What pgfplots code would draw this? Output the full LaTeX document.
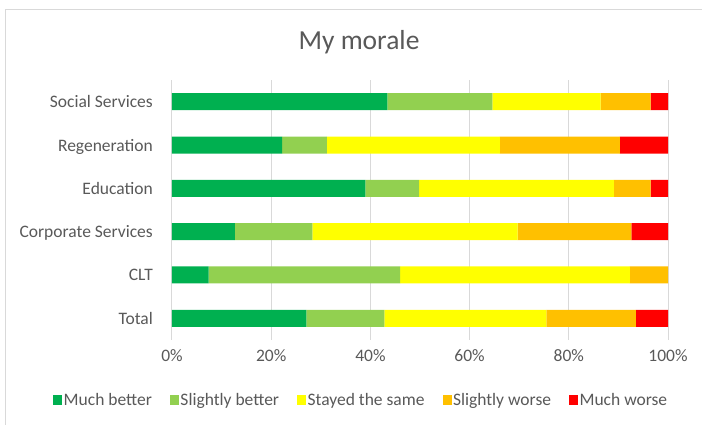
\documentclass[border=0pt]{standalone}
\usepackage{pgfplots}
\pgfplotsset{compat=1.18}
\usepackage{pgfplotstable}
\usepackage{fontspec}
\setmainfont{Carlito}
\definecolor{txt}{HTML}{595959}
\definecolor{gridc}{HTML}{D9D9D9}
\definecolor{cmb}{HTML}{00B050}
\definecolor{csb}{HTML}{92D050}
\definecolor{css}{HTML}{FFFF00}
\definecolor{csw}{HTML}{FFC000}
\definecolor{cmw}{HTML}{FF0000}
\pgfplotstableread{
y much slightly same sworse mworse
0 27.1 15.7 32.7 18.0 6.5
1 7.4 38.6 46.3 7.7 0
2 12.7 15.6 41.4 22.9 7.4
3 39.0 10.8 39.3 7.4 3.5
4 22.2 9.0 34.9 24.2 9.7
5 43.4 21.2 21.8 10.1 3.5
}\datatable
\begin{document}
\begin{tikzpicture}
\fill[white] (0,0) rectangle (702pt,425pt);
\draw[gridc, line width=1pt] (5pt,415pt) rectangle (720pt,-20pt);
\node[font=\fontsize{27.5}{32}\selectfont, text=txt] at (359pt,382.5pt) {My morale};
\begin{axis}[
  at={(172pt,85pt)}, anchor=south west,
  scale only axis, width=496pt, height=260pt,
  xbar stacked, bar width=17pt,
  xmin=0, xmax=100, ymin=-0.5, ymax=5.5,
  ytick={0,1,2,3,4,5},
  yticklabels={Total,CLT,Corporate Services,Education,Regeneration,Social Services},
  xtick={0,20,40,60,80,100},
  xticklabels={0\%,20\%,40\%,60\%,80\%,100\%},
  xmajorgrids, grid style={draw=gridc, line width=1pt},
  axis line style={draw=none},
  major tick length=0pt,
  tick label style={font=\fontsize{17.5}{20}\selectfont, text=txt},
  yticklabel style={inner sep=0pt, xshift=-19pt, text height=12pt, text depth=0pt},
  xticklabel style={inner sep=0pt, yshift=-9pt},
  legend columns=5,
  legend style={draw=none, fill=none, at={(0.381,-0.2308)}, anchor=center,
    font=\fontsize{17.5}{20}\selectfont, text=txt,
    nodes={inner sep=1.5pt},
    /tikz/every even column/.append style={column sep=16.5pt}},
  legend cell align=left,
  legend image code/.code={\fill[#1] (0pt,-5pt) rectangle (9pt,5pt);},
]
\addplot[fill=cmb, draw=none] table[x=much, y=y] {\datatable};
\addplot[fill=csb, draw=none] table[x=slightly, y=y] {\datatable};
\addplot[fill=css, draw=none] table[x=same, y=y] {\datatable};
\addplot[fill=csw, draw=none] table[x=sworse, y=y] {\datatable};
\addplot[fill=cmw, draw=none] table[x=mworse, y=y] {\datatable};
\legend{Much better,Slightly better,Stayed the same,Slightly worse,Much worse}
\end{axis}
\pgfresetboundingbox
\useasboundingbox (0,0) rectangle (702pt,425pt);
\end{tikzpicture}
\end{document}
